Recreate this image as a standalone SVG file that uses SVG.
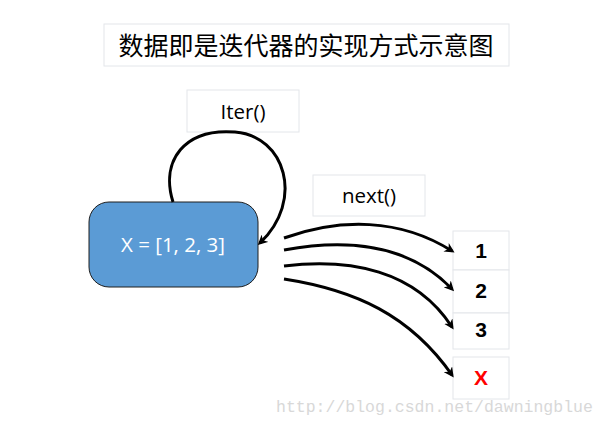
<svg xmlns="http://www.w3.org/2000/svg" width="607" height="425" viewBox="0 0 607 425">
<style>
.lbl{fill:#fff;stroke:#e3e6ea;stroke-width:1}
.t{font-family:"Open Sans","Liberation Sans",sans-serif;font-size:20.5px;fill:#000;text-anchor:middle}
.n{font-family:"Liberation Sans",sans-serif;font-size:21px;font-weight:bold;fill:#000;text-anchor:middle}
.c{fill:none;stroke:#000;stroke-width:3}
</style>
<defs>
<marker id="ah" markerWidth="10" markerHeight="10" refX="7" refY="5" orient="auto" markerUnits="userSpaceOnUse" viewBox="0 0 10 10">
<path d="M0,0 L10,5 L0,10 L3,5 Z" fill="#000"/>
</marker>
</defs>
<rect width="607" height="425" fill="#fff"/>
<g id="title">
<rect class="lbl" x="104" y="24" width="405" height="42"/>
<text x="306" y="55" font-family="'Noto Sans CJK SC',sans-serif" font-size="25" text-anchor="middle">数据即是迭代器的实现方式示意图</text>
</g>
<g id="iter">
<rect class="lbl" x="187" y="90" width="112" height="42"/>
<text class="t" x="243" y="119">Iter()</text>
</g>
<g id="next">
<rect class="lbl" x="313" y="175" width="112" height="41"/>
<text class="t" x="369" y="203">next()</text>
</g>
<g id="x">
<rect x="89" y="202" width="169" height="85" rx="20" fill="#5b9bd5" stroke="#1f1f1f" stroke-width="1"/>
<text class="t" x="173" y="252" style="fill:#fff">X = [1, 2, 3]</text>
</g>
<g id="v1"><rect class="lbl" x="453" y="231" width="56" height="39"/><text class="n" x="481" y="258">1</text></g>
<g id="v2"><rect class="lbl" x="453" y="270" width="56" height="43"/><text class="n" x="481" y="298">2</text></g>
<g id="v3"><rect class="lbl" x="453" y="313" width="56" height="36"/><text class="n" x="481" y="337">3</text></g>
<g id="vx"><rect class="lbl" x="453" y="357" width="56" height="42"/><text class="n" x="481" y="385" style="fill:#ff0000">X</text></g>
<g id="connectors">
<path class="c" d="M173,202 C160,160 185,128 235,132 C285,136 305,200 260,243" marker-end="url(#ah)"/>
<path class="c" d="M284,238 C340,218 400,218 452,251" marker-end="url(#ah)"/>
<path class="c" d="M284,250 C350,238 410,245 452,289" marker-end="url(#ah)"/>
<path class="c" d="M284,266 C350,258 415,270 452,327" marker-end="url(#ah)"/>
<path class="c" d="M284,279 C355,290 410,315 452,375" marker-end="url(#ah)"/>
</g>
<text x="276" y="412" font-family="'Liberation Mono',monospace" font-size="16.5" fill="#d8d8d8">http://blog.csdn.net/dawningblue</text>
</svg>
